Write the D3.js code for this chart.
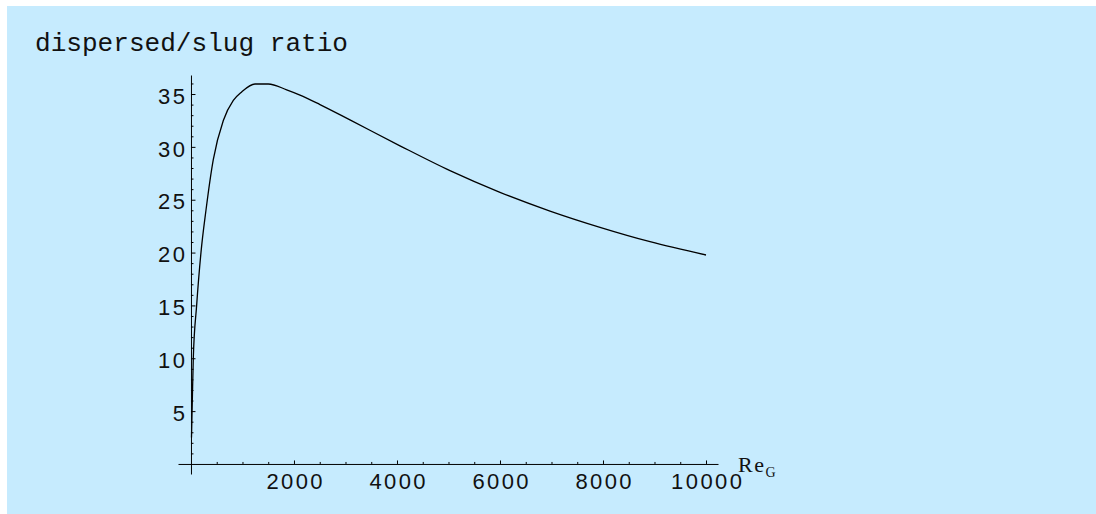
<!DOCTYPE html>
<html>
<head>
<meta charset="utf-8">
<script src="https://cdn.jsdelivr.net/npm/d3@7/dist/d3.min.js"></script>
<style>
  html, body { margin: 0; padding: 0; background: #ffffff; }
  svg { display: block; }
</style>
</head>
<body>
<svg id="chart" width="1096" height="514"></svg>
<script>
// ---- data ----
const reG   = [10, 26, 45, 110, 194, 291, 433, 628, 822, 984, 1243, 1501, 1858, 2117, 2505, 3087, 4058, 5029, 6000, 6971, 7942, 8913, 10000];
const ratio = [2.5, 6, 10, 15, 20, 24, 28.8, 32.5, 34.4, 35.2, 35.95, 35.95, 35.4, 34.9, 34.0, 32.55, 30.1, 27.75, 25.7, 23.93, 22.39, 21.03, 19.77];
const xMajorTicks = [2000, 4000, 6000, 8000, 10000];
const xMinorTicks = [500, 1000, 1500, 2500, 3000, 3500, 4500, 5000, 5500, 6500, 7000, 7500, 8500, 9000, 9500];
const yMajorTicks = [5, 10, 15, 20, 25, 30, 35];
const yMinorTicks = [1, 2, 3, 4, 6, 7, 8, 9, 11, 12, 13, 14, 16, 17, 18, 19, 21, 22, 23, 24, 26, 27, 28, 29, 31, 32, 33, 34, 36];
const titleText = "dispersed/slug ratio";
const xLabelMain = "Re";
const xLabelSub = "G";

const svg = d3.select("#chart");

// background panel
svg.append("rect").attr("x", 7).attr("y", 6).attr("width", 1089).attr("height", 508).attr("fill", "#c6ebfe");

const x = d3.scaleLinear().domain([-252, 10233]).range([178, 718]);
const y = d3.scaleLinear().domain([-0.95, 36.8]).range([474, 75]);

const tickFont = "'Liberation Sans', Arial, sans-serif";

// X axis (minor)
const gxMinor = svg.append("g").attr("transform", `translate(0,${y(0)})`)
  .call(d3.axisBottom(x).tickValues(xMinorTicks).tickSizeInner(-2).tickSizeOuter(0).tickFormat(""));
// X axis (major)
const gx = svg.append("g").attr("transform", `translate(0,${y(0)})`)
  .call(d3.axisBottom(x).tickValues(xMajorTicks).tickSizeInner(-3.5).tickSizeOuter(0).tickFormat(d3.format("d")));
gx.selectAll("text").attr("y", 25).attr("dy", 0).attr("dx", 1.2)
  .style("font-family", tickFont).style("font-size", "22px").style("letter-spacing", "2.4px").attr("fill", "#111");

// Y axis (minor)
const gyMinor = svg.append("g").attr("transform", `translate(${x(0)},0)`)
  .call(d3.axisLeft(y).tickValues(yMinorTicks).tickSizeInner(-2.5).tickSizeOuter(0).tickFormat(""));
// Y axis (major)
const gy = svg.append("g").attr("transform", `translate(${x(0)},0)`)
  .call(d3.axisLeft(y).tickValues(yMajorTicks).tickSizeInner(-4.5).tickSizeOuter(0).tickFormat(d3.format("d")));
gy.selectAll("text").attr("x", -3.6).attr("dy", "0.42em")
  .style("font-family", tickFont).style("font-size", "22px").style("letter-spacing", "2.4px").attr("fill", "#111");

svg.selectAll(".domain, .tick line").attr("stroke", "#000").attr("stroke-width", 1);
gxMinor.select(".domain").remove();
gyMinor.select(".domain").remove();

// curve
const pts = reG.map((v, i) => [v, ratio[i]]);
svg.append("path").datum(pts)
  .attr("fill", "none").attr("stroke", "#000").attr("stroke-width", 1.3)
  .attr("d", d3.line().x(d => x(d[0])).y(d => y(d[1])).curve(d3.curveMonotoneX));

// title
svg.append("text").attr("x", 35).attr("y", 51)
  .attr("textLength", 313).attr("lengthAdjust", "spacingAndGlyphs")
  .style("font-family", "'Liberation Mono', 'Courier New', monospace").style("font-size", "25px")
  .attr("fill", "#111").text(titleText);

// x axis label
const lab = svg.append("text").attr("x", 738).attr("y", 472)
  .style("font-family", "'Liberation Serif', 'Times New Roman', serif").style("font-size", "22px")
  .style("letter-spacing", "1.5px").attr("fill", "#111");
lab.append("tspan").text(xLabelMain);
lab.append("tspan").attr("dy", 5).style("font-size", "14px").style("letter-spacing", "0px").text(xLabelSub);
</script>
</body>
</html>
